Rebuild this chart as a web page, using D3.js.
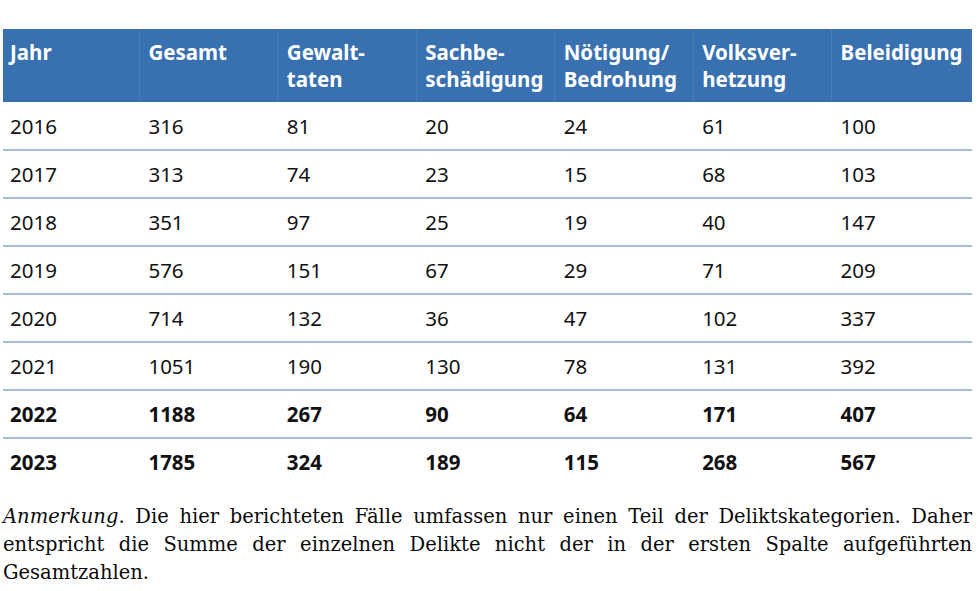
<!DOCTYPE html>
<html>
<head>
<meta charset="utf-8">
<script src="https://cdn.jsdelivr.net/npm/d3@7"></script>
<style>
  body { margin: 0; background: #fff; }
  #wrap { position: relative; width: 980px; height: 591px; }
  .note { position: absolute; left: 3px; width: 969px; font-family: "DejaVu Serif", serif; font-size: 19.5px; color: #0a0a0a; line-height: 28px; white-space: nowrap; }
  .note.just { text-align: justify; text-align-last: justify; white-space: normal; }
</style>
</head>
<body>
<div id="wrap"></div>
<script>
// table content
var columns = [["Jahr"], ["Gesamt"], ["Gewalt-", "taten"], ["Sachbe-", "schädigung"], ["Nötigung/", "Bedrohung"], ["Volksver-", "hetzung"], ["Beleidigung"]];
var years = ["2016", "2017", "2018", "2019", "2020", "2021", "2022", "2023"];
var gesamt = [316, 313, 351, 576, 714, 1051, 1188, 1785];
var gewalt = [81, 74, 97, 151, 132, 190, 267, 324];
var sachbe = [20, 23, 25, 67, 36, 130, 90, 189];
var noetigung = [24, 15, 19, 29, 47, 78, 64, 115];
var volks = [61, 68, 40, 71, 102, 131, 171, 268];
var beleidigung = [100, 103, 147, 209, 337, 392, 407, 567];
var boldYears = ["2022", "2023"];

var noteLines = [
  "<i>Anmerkung</i>. Die hier berichteten Fälle umfassen nur einen Teil der Deliktskategorien. Daher",
  "entspricht die Summe der einzelnen Delikte nicht der in der ersten Spalte aufgeführten",
  "Gesamtzahlen."
];

var width = 980, height = 591;
var left = 3, right = 972;
var headTop = 29, headBottom = 102, rowH = 48;

var rows = years.map(function (y, i) {
  return [y, gesamt[i], gewalt[i], sachbe[i], noetigung[i], volks[i], beleidigung[i]];
});

var x = d3.scaleBand().domain(d3.range(columns.length)).range([left, right]);
var y = d3.scaleBand().domain(years).range([headBottom, headBottom + rowH * years.length]);

var svg = d3.select("#wrap").append("svg")
  .attr("width", width)
  .attr("height", height)
  .style("position", "absolute")
  .style("left", 0).style("top", 0);

// header band
svg.append("rect")
  .attr("x", left).attr("y", headTop)
  .attr("width", right - left).attr("height", headBottom - headTop)
  .attr("fill", "#3870b0");

// faint column dividers in header
svg.selectAll(".hdiv").data(d3.range(1, columns.length)).enter()
  .append("line")
  .attr("x1", function (d) { return x(d) - 2; })
  .attr("x2", function (d) { return x(d) - 2; })
  .attr("y1", headTop).attr("y2", headBottom)
  .attr("stroke", "#4b7fba").attr("stroke-width", 1);

// header labels
var head = svg.selectAll(".head").data(columns).enter()
  .append("text")
  .attr("class", "head")
  .attr("x", function (d, i) { return x(i) + 7; })
  .attr("y", 60)
  .attr("fill", "#fff")
  .style("font-family", "'Noto Sans', sans-serif")
  .style("font-weight", "700")
  .style("font-size", "20.5px");

head.selectAll("tspan").data(function (d) { return d; }).enter()
  .append("tspan")
  .attr("x", function () { return d3.select(this.parentNode).attr("x"); })
  .attr("dy", function (d, i) { return i === 0 ? 0 : 27; })
  .text(function (d) { return d; });

// row separators
svg.selectAll(".sep").data(years.slice(1)).enter()
  .append("line")
  .attr("x1", left).attr("x2", right)
  .attr("y1", function (d) { return y(d); })
  .attr("y2", function (d) { return y(d); })
  .attr("stroke", "#88a9cc").attr("stroke-width", 1.5);

// body cells
var row = svg.selectAll(".row").data(rows).enter()
  .append("g")
  .attr("class", "row")
  .attr("transform", function (d) { return "translate(0," + (y(d[0]) + y.bandwidth() / 2 + 8) + ")"; });

row.selectAll("text").data(function (d) { return d; }).enter()
  .append("text")
  .attr("x", function (d, i) { return x(i) + 7; })
  .attr("fill", "#111")
  .style("font-family", "'Noto Sans', sans-serif")
  .style("font-size", "20.5px")
  .style("font-weight", function () {
    var yr = d3.select(this.parentNode).datum()[0];
    return boldYears.indexOf(yr) >= 0 ? "700" : "400";
  })
  .text(function (d) { return d; });

// note below table
d3.select("#wrap").selectAll(".note").data(noteLines).enter()
  .append("div")
  .attr("class", function (d, i) { return i < noteLines.length - 1 ? "note just" : "note"; })
  .style("top", function (d, i) { return (503 + i * 28) + "px"; })
  .html(function (d) { return d; });
</script>
</body>
</html>
